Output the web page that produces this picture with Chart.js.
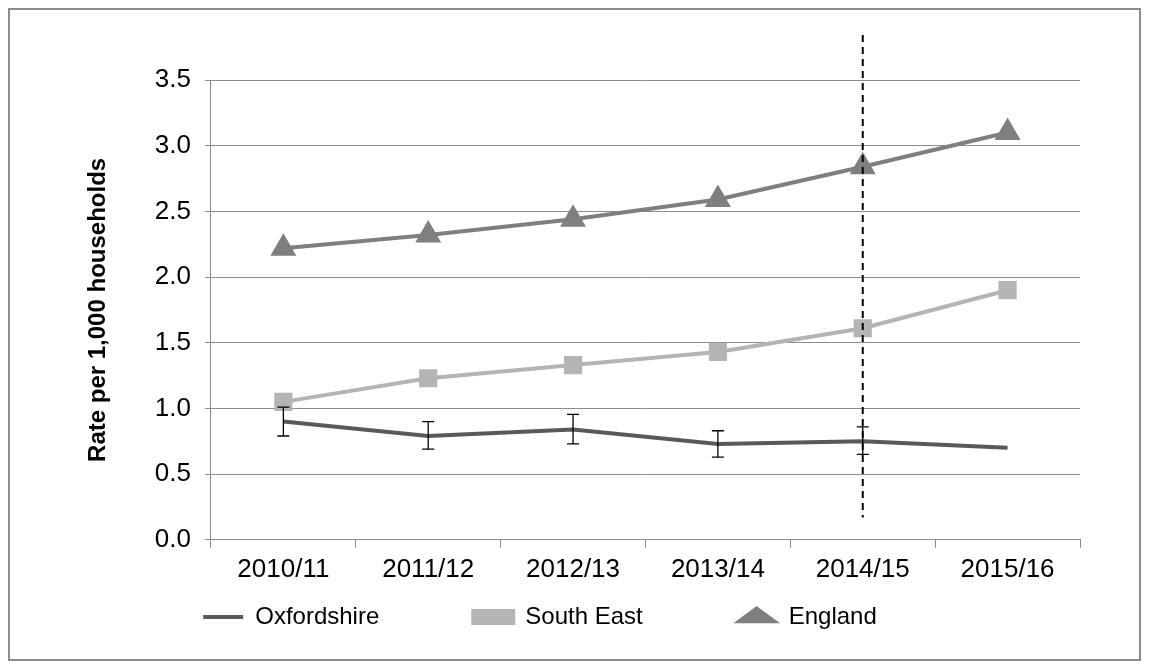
<!DOCTYPE html>
<html><head><meta charset="utf-8">
<script src="https://cdn.jsdelivr.net/npm/chart.js@4"></script>
<style>
body{margin:0;background:#fff;}
#wrap{position:absolute;left:8px;top:8px;width:1133px;height:653px;border:2px solid #8c8c8c;box-sizing:border-box;}
</style></head><body>
<div id="wrap"><canvas id="c"></canvas></div>
<script>
const years = ['2010/11','2011/12','2012/13','2013/14','2014/15','2015/16'];
const oxfordshire = [0.90, 0.79, 0.84, 0.73, 0.75, 0.70];
const oxLow = [0.79, 0.69, 0.73, 0.63, 0.65, null];
const oxHigh = [1.01, 0.90, 0.955, 0.83, 0.86, null];
const southEast = [1.05, 1.23, 1.33, 1.43, 1.61, 1.90];
const england = [2.22, 2.32, 2.44, 2.59, 2.84, 3.10];
const markerYear = '2014/15';
const markerBottom = 0.17;

const extras = {
  id: 'extras',
  afterDatasetsDraw(chart) {
    const c = chart.ctx, x = chart.scales.x, y = chart.scales.y;
    c.save();
    c.strokeStyle = '#000'; c.lineWidth = 1.3;
    years.forEach((yr, i) => {
      if (oxLow[i] == null) return;
      const px = x.getPixelForValue(i);
      const a = y.getPixelForValue(oxLow[i]), b = y.getPixelForValue(oxHigh[i]);
      c.beginPath();
      c.moveTo(px, a); c.lineTo(px, b);
      c.moveTo(px - 6, a); c.lineTo(px + 6, a);
      c.moveTo(px - 6, b); c.lineTo(px + 6, b);
      c.stroke();
    });
    const mx = x.getPixelForValue(years.indexOf(markerYear));
    c.setLineDash([7, 5]); c.lineWidth = 2;
    c.beginPath();
    c.moveTo(mx, chart.chartArea.top - 45);
    c.lineTo(mx, y.getPixelForValue(markerBottom));
    c.stroke();
    c.restore();
  }
};

const f = {family: 'Liberation Sans', size: 26};
new Chart(document.getElementById('c'), {
  type: 'line',
  data: {
    labels: years,
    datasets: [
      {label: 'Oxfordshire', data: oxfordshire, borderColor: '#595959', backgroundColor: '#595959', borderWidth: 4, pointRadius: 0, pointStyle: 'line'},
      {label: 'South East', data: southEast, borderColor: '#b4b4b4', backgroundColor: '#b4b4b4', borderWidth: 4, pointStyle: 'rect', pointRadius: 10},
      {label: 'England', data: england, borderColor: '#7f7f7f', backgroundColor: '#7f7f7f', borderWidth: 4, pointStyle: 'triangle', pointRadius: 11}
    ]
  },
  options: {
    responsive: true, maintainAspectRatio: false, animation: false,
    layout: {padding: {top: 70, right: 59, left: 70, bottom: 20}},
    plugins: {
      legend: {position: 'bottom', labels: {usePointStyle: true, pointStyleWidth: 40, boxHeight: 12, padding: 14,
        font: {family: 'Liberation Sans', size: 24}, color: '#000',
        generateLabels(chart) {
          return chart.data.datasets.map((d, i) => ({text: d.label + '            ', fillStyle: d.backgroundColor, strokeStyle: d.borderColor,
            lineWidth: 4, pointStyle: d.pointStyle, datasetIndex: i, fontColor: '#000'}));
        }}},
      tooltip: {enabled: false}
    },
    scales: {
      x: {offset: true, grid: {display: true, offset: true, drawOnChartArea: false, color: '#8c8c8c', tickLength: 8}, border: {color: '#8c8c8c'},
        ticks: {font: f, color: '#000', padding: 6}},
      y: {min: 0, max: 3.5, ticks: {stepSize: 0.5, callback: v => v.toFixed(1), font: f, color: '#000', padding: 14},
        grid: {color: '#8c8c8c', tickLength: 6}, border: {color: '#8c8c8c'},
        title: {display: true, text: 'Rate per 1,000 households', font: {family: 'Liberation Sans', size: 24, weight: 'bold'}, color: '#000', padding: {bottom: 28}}}
    }
  },
  plugins: [extras]
});
</script></body></html>
